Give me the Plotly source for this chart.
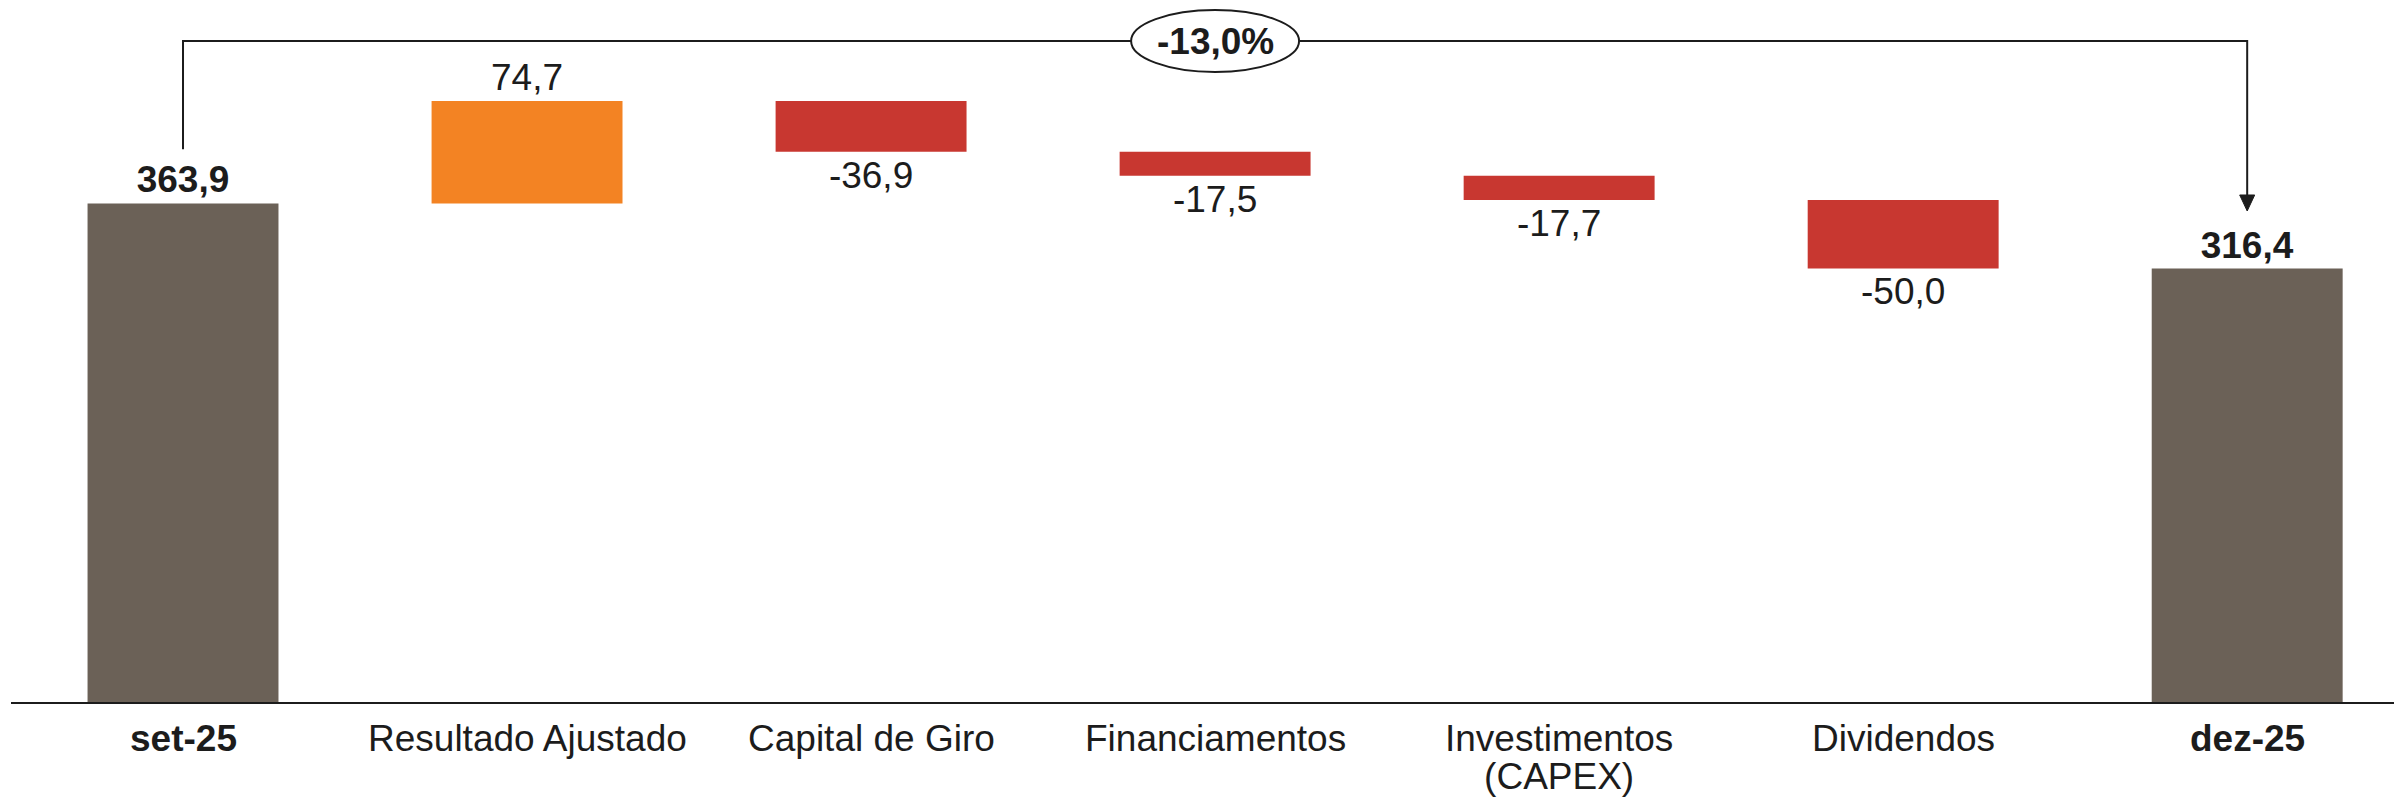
import plotly.graph_objects as go

# ---- data ----
category_lines = [
    ["set-25"],
    ["Resultado Ajustado"],
    ["Capital de Giro"],
    ["Financiamentos"],
    ["Investimentos", "(CAPEX)"],
    ["Dividendos"],
    ["dez-25"],
]
measures = ["absolute", "relative", "relative", "relative", "relative", "relative", "absolute"]
values = [363.9, 74.7, -36.9, -17.5, -17.7, -50.0, 316.4]
is_total = [True, False, False, False, False, False, True]
change_label = "-13,0%"

# ---- styling ----
FONT = "Liberation Sans, Arial, Helvetica, sans-serif"
TXT = "#1c1c1c"
GRAY = "#6B6157"
ORANGE = "#F38323"
RED = "#C83730"
FS = 37
PX_PER_UNIT = 1.37
FIG_W, FIG_H = 2394, 796   # page body adds an 8px margin
PLOT_H = 694                # axis line (page y ~702)

categories = [" ".join(l) for l in category_lines]


def fmt(v, bold):
    s = f"{v:.1f}".replace(".", ",")
    return f"<b>{s}</b>" if bold else s


texts = [fmt(v, b) for v, b in zip(values, is_total)]

fig = go.Figure()
fig.add_trace(go.Waterfall(
    x=categories,
    y=values,
    measure=measures,
    text=texts,
    textposition="outside",
    textfont=dict(family=FONT, size=FS, color=TXT),
    cliponaxis=False,
    width=0.555,
    connector=dict(visible=False),
    increasing=dict(marker=dict(color=ORANGE)),
    decreasing=dict(marker=dict(color=RED)),
    totals=dict(marker=dict(color=GRAY)),
    hoverinfo="skip",
    showlegend=False,
))

# bracket with arrow (positions in data units relative to the totals)
start_val = values[0]
end_val = values[-1]
bracket_y = (PLOT_H - 33) / PX_PER_UNIT
left_bottom = start_val + 39.5
arrow_tip = end_val + 42
head_len_units = 16 / PX_PER_UNIT

fig.add_trace(go.Scatter(
    x=[categories[0], categories[0], categories[-1], categories[-1]],
    y=[left_bottom, bracket_y, bracket_y, arrow_tip + head_len_units * 0.5],
    mode="lines",
    line=dict(color=TXT, width=2),
    hoverinfo="skip",
    showlegend=False,
    cliponaxis=False,
))

mid = (len(categories) - 1) / 2
shapes = [
    dict(type="path", xref="x", yref="y", xsizemode="pixel", ysizemode="pixel",
         xanchor=categories[-1], yanchor=arrow_tip,
         path="M-7.5,16 L7.5,16 L0,0 Z",
         fillcolor=TXT, line=dict(color=TXT, width=1)),
    dict(type="circle", xref="x", yref="y", xsizemode="pixel", ysizemode="pixel",
         xanchor=mid, yanchor=bracket_y,
         x0=-84, x1=84, y0=-31, y1=31,
         fillcolor="white", line=dict(color=TXT, width=2)),
]

annotations = [
    dict(x=mid, y=bracket_y, xref="x", yref="y",
         text=f"<b>{change_label}</b>", showarrow=False,
         font=dict(family=FONT, size=FS, color=TXT))
]
# category labels: line pitch ~38px (1.3em of the 29px base font), glyphs at 37px
LINE_BASE_FS = 29
for cat, lines, bold in zip(categories, category_lines, is_total):
    parts = [f"<span style='font-size:{FS}px'>{'<b>' + l + '</b>' if bold else l}</span>"
             for l in lines]
    annotations.append(dict(
        x=cat, y=0, xref="x", yref="paper", yanchor="top",
        yshift=-14, showarrow=False,
        text="<br>".join(parts),
        font=dict(family=FONT, size=LINE_BASE_FS, color=TXT),
    ))

fig.update_layout(
    width=FIG_W, height=FIG_H,
    margin=dict(l=3, r=0, t=0, b=FIG_H - PLOT_H),
    paper_bgcolor="white", plot_bgcolor="white",
    shapes=shapes, annotations=annotations,
    xaxis=dict(type="category", range=[-0.5, 6.45], showline=True,
               linecolor=TXT, linewidth=2, showgrid=False, zeroline=False,
               showticklabels=False, ticks=""),
    yaxis=dict(range=[0, PLOT_H / PX_PER_UNIT], visible=False),
    font=dict(family=FONT, color=TXT),
)

fig.write_html("out.html")
